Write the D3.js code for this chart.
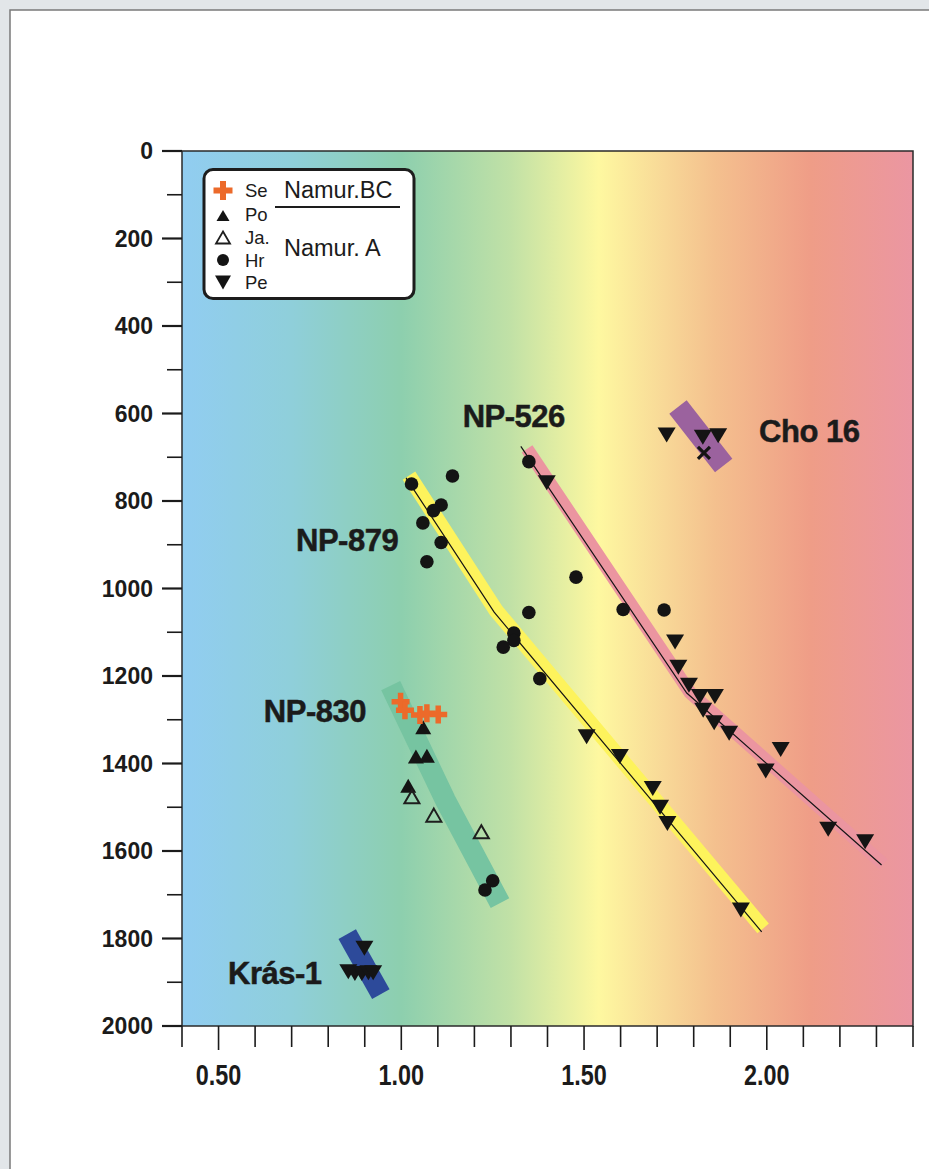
<!DOCTYPE html>
<html>
<head>
<meta charset="utf-8">
<script src="https://cdn.jsdelivr.net/npm/d3@7"></script>
<style>
  html, body { margin: 0; padding: 0; background: #e2e6e9; }
  svg { display: block; }
  text { font-family: "Liberation Sans", Arial, Helvetica, sans-serif; fill: #1b1b1b; }
</style>
</head>
<body>
<svg id="chart" width="929" height="1169"></svg>
<script>
// ---- data: [vitrinite reflectance, depth in m] ----
const se = [[0.998,1259],[1.010,1278],[1.051,1289],[1.070,1285],[1.101,1288]];
const po = [[1.060,1317],[1.040,1384],[1.070,1382],[1.019,1451]];
const ja = [[1.029,1476],[1.089,1518],[1.219,1556]];
const hr = [[1.028,761],[1.140,743],[1.109,809],[1.088,822],[1.059,850],[1.109,895],[1.070,939],
            [1.349,1055],[1.308,1102],[1.308,1119],[1.279,1134],[1.379,1206],
            [1.349,710],[1.478,974],[1.607,1048],[1.719,1049],
            [1.250,1668],[1.229,1689]];
const pe = [[1.398,758],[1.749,1122],[1.758,1180],[1.787,1221],[1.817,1247],[1.858,1247],[1.826,1278],
            [1.856,1307],[1.897,1331],[2.038,1368],[1.997,1417],[2.168,1550],[2.269,1579],
            [1.507,1339],[1.598,1384],[1.688,1457],[1.708,1500],[1.728,1537],[1.929,1735],
            [1.726,649],[1.825,654],[1.867,651],
            [0.899,1822],[0.855,1876],[0.873,1880],[0.892,1880],[0.910,1878],[0.923,1878]];
const cho16Cross = [[1.828,690]];

// trend lines and shaded trend bands
const np879Line = [[1.013,747],[1.254,1054],[1.986,1785]];
const np526Line = [[1.327,675],[1.781,1239],[2.314,1632]];
const np879Band = [[1.021,742],[1.259,1050],[1.990,1777]];
const np526Band = [[1.344,681],[1.790,1238],[2.319,1630]];
const np830Band = [[0.971,1222],[1.120,1483],[1.270,1719]];
const krasBand  = [[0.852,1790],[0.944,1927]];
const choBand   = [[1.757,585],[1.882,719]];

const wellLabels = [
  {text: "NP-526", x: 1.168, d: 631},
  {text: "Cho 16", x: 1.979, d: 666},
  {text: "NP-879", x: 0.712, d: 914},
  {text: "NP-830", x: 0.624, d: 1304},
  {text: "Krás-1", x: 0.526, d: 1903}
];

const xTickLabels = [0.5, 1.0, 1.5, 2.0];
const yTickLabels = [0,200,400,600,800,1000,1200,1400,1600,1800,2000];
const legendItems = ["Se","Po","Ja.","Hr","Pe"];

// ---- layout ----
const svg = d3.select("#chart");
const x = d3.scaleLinear().domain([0.4, 2.4]).range([182, 913]);
const y = d3.scaleLinear().domain([0, 2000]).range([151, 1026]);

// page panel
svg.append("rect").attr("x", 0).attr("y", 0).attr("width", 929).attr("height", 1169).attr("fill", "#e2e6e9");
svg.append("rect").attr("x", 10).attr("y", 10).attr("width", 960).attr("height", 1200)
  .attr("fill", "#ffffff").attr("stroke", "#7a7a7a").attr("stroke-width", 1.5);

// background gradient across reflectance range
const defs = svg.append("defs");
const grad = defs.append("linearGradient").attr("id", "bg").attr("x1", "0%").attr("x2", "100%").attr("y1", "0%").attr("y2", "0%");
[[0, "#91cdf1"], [0.15, "#8fcfda"], [0.30, "#8dcfae"], [0.45, "#c1e1a6"], [0.57, "#fef8a0"],
 [0.66, "#f8d897"], [0.73, "#f4c08e"], [0.86, "#ef9d87"], [1, "#eb96a2"]]
  .forEach(([o, c]) => grad.append("stop").attr("offset", o).attr("stop-color", c));

svg.append("rect").attr("x", x(0.4)).attr("y", y(0)).attr("width", x(2.4) - x(0.4)).attr("height", y(2000) - y(0))
  .attr("fill", "url(#bg)");

// bands
const line = d3.line().x(p => x(p[0])).y(p => y(p[1]));
const bands = [
  [np879Band, "#fdf35c", 15],
  [np526Band, "#eb95a0", 13],
  [np830Band, "#76c4a1", 21],
  [krasBand, "#2d4a9a", 20],
  [choBand, "#9b629e", 22]
];
bands.forEach(([pts, col, w]) => {
  svg.append("path").attr("d", line(pts)).attr("fill", "none").attr("stroke", col)
    .attr("stroke-width", w).attr("stroke-linejoin", "round").attr("stroke-linecap", "butt");
});
[np879Line, np526Line].forEach(pts => {
  svg.append("path").attr("d", line(pts)).attr("fill", "none").attr("stroke", "#151515").attr("stroke-width", 1.2);
});

// plot frame
svg.append("rect").attr("x", x(0.4)).attr("y", y(0)).attr("width", x(2.4) - x(0.4)).attr("height", y(2000) - y(0))
  .attr("fill", "none").attr("stroke", "#2a2a2a").attr("stroke-width", 1.5);

// axes
const yAxis = svg.append("g");
d3.range(0, 2001, 100).forEach(v => {
  const major = v % 200 === 0;
  yAxis.append("line").attr("x1", x(0.4) - (major ? 20 : 15)).attr("x2", x(0.4))
    .attr("y1", y(v)).attr("y2", y(v)).attr("stroke", "#1b1b1b").attr("stroke-width", major ? 2.2 : 1.6);
});
yAxis.selectAll("text.yl").data(yTickLabels).enter().append("text")
  .attr("x", 153).attr("y", d => y(d)).attr("dy", "0.36em").attr("text-anchor", "end")
  .attr("font-size", 23).attr("font-weight", "bold").text(d => d);

const xAxis = svg.append("g");
d3.range(0, 21).forEach(i => {
  const v = 0.4 + i * 0.1;
  const major = i % 5 === 1;
  xAxis.append("line").attr("x1", x(v)).attr("x2", x(v)).attr("y1", y(2000))
    .attr("y2", y(2000) + (major ? 24 : 21)).attr("stroke", "#1b1b1b").attr("stroke-width", 1.6);
});
xAxis.selectAll("text.xl").data(xTickLabels).enter().append("text")
  .attr("transform", d => `translate(${x(d)},1085) scale(0.78,1)`).attr("text-anchor", "middle")
  .attr("font-size", 30).attr("font-weight", "bold").text(d => d.toFixed(2));

// marker shapes
const g = svg.append("g");
const crossPath = (s, t) => `M${-t/2},${-s/2}H${t/2}V${-t/2}H${s/2}V${t/2}H${t/2}V${s/2}H${-t/2}V${t/2}H${-s/2}V${-t/2}H${-t/2}Z`;
const upTri = (w, h) => `M0,${-h/2}L${w/2},${h/2}L${-w/2},${h/2}Z`;
const downTri = (w, h) => `M${-w/2},${-h/2}L${w/2},${-h/2}L0,${h/2}Z`;

g.selectAll("path.hr").data(hr).enter().append("circle")
  .attr("cx", d => x(d[0])).attr("cy", d => y(d[1])).attr("r", 6.8).attr("fill", "#141414");
g.selectAll("path.po").data(po).enter().append("path")
  .attr("transform", d => `translate(${x(d[0])},${y(d[1])})`).attr("d", upTri(16, 14)).attr("fill", "#141414");
g.selectAll("path.ja").data(ja).enter().append("path")
  .attr("transform", d => `translate(${x(d[0])},${y(d[1])})`).attr("d", upTri(15, 13))
  .attr("fill", "none").attr("stroke", "#1e1e1e").attr("stroke-width", 2);
g.selectAll("path.pe").data(pe).enter().append("path")
  .attr("transform", d => `translate(${x(d[0])},${y(d[1])})`).attr("d", downTri(18, 15)).attr("fill", "#141414");
g.selectAll("path.se").data(se).enter().append("path")
  .attr("transform", d => `translate(${x(d[0])},${y(d[1])})`).attr("d", crossPath(18, 5.5)).attr("fill", "#ec6a2a");
g.selectAll("path.xm").data(cho16Cross).enter().append("path")
  .attr("transform", d => `translate(${x(d[0])},${y(d[1])})`).attr("d", "M-6,-6L6,6M6,-6L-6,6")
  .attr("stroke", "#141414").attr("stroke-width", 3.2);

// well labels
svg.selectAll("text.well").data(wellLabels).enter().append("text")
  .attr("x", d => x(d.x)).attr("y", d => y(d.d)).attr("font-size", 31).attr("font-weight", "bold")
  .attr("letter-spacing", -0.5).attr("stroke", "#1b1b1b").attr("stroke-width", 0.5).text(d => d.text);

// legend
const lg = svg.append("g");
lg.append("rect").attr("x", 204).attr("y", 169.5).attr("width", 210).attr("height", 129).attr("rx", 9)
  .attr("fill", "#ffffff").attr("stroke", "#1d1d1d").attr("stroke-width", 3);
const legendY = [190.5, 214.5, 237.5, 260, 282.5];
legendItems.forEach((name, i) => {
  lg.append("text").attr("x", 245).attr("y", legendY[i]).attr("dy", "0.36em").attr("font-size", 18.5).text(name);
});
lg.append("path").attr("transform", `translate(223,${legendY[0]})`).attr("d", crossPath(19, 6)).attr("fill", "#ec6a2a");
lg.append("path").attr("transform", `translate(223,${legendY[1] + 1})`).attr("d", upTri(13, 11)).attr("fill", "#141414");
lg.append("path").attr("transform", `translate(223,${legendY[2]})`).attr("d", upTri(14, 12)).attr("fill", "none")
  .attr("stroke", "#1e1e1e").attr("stroke-width", 1.8);
lg.append("circle").attr("cx", 223).attr("cy", legendY[3]).attr("r", 6).attr("fill", "#141414");
lg.append("path").attr("transform", `translate(223,${legendY[4]})`).attr("d", downTri(16, 14)).attr("fill", "#141414");
lg.append("line").attr("x1", 275).attr("x2", 400).attr("y1", 207).attr("y2", 207).attr("stroke", "#1d1d1d").attr("stroke-width", 2.2);
lg.append("text").attr("x", 284).attr("y", 198).attr("font-size", 23.5).text("Namur.BC");
lg.append("text").attr("x", 284).attr("y", 256).attr("font-size", 23.5).text("Namur. A");
</script>
</body>
</html>
